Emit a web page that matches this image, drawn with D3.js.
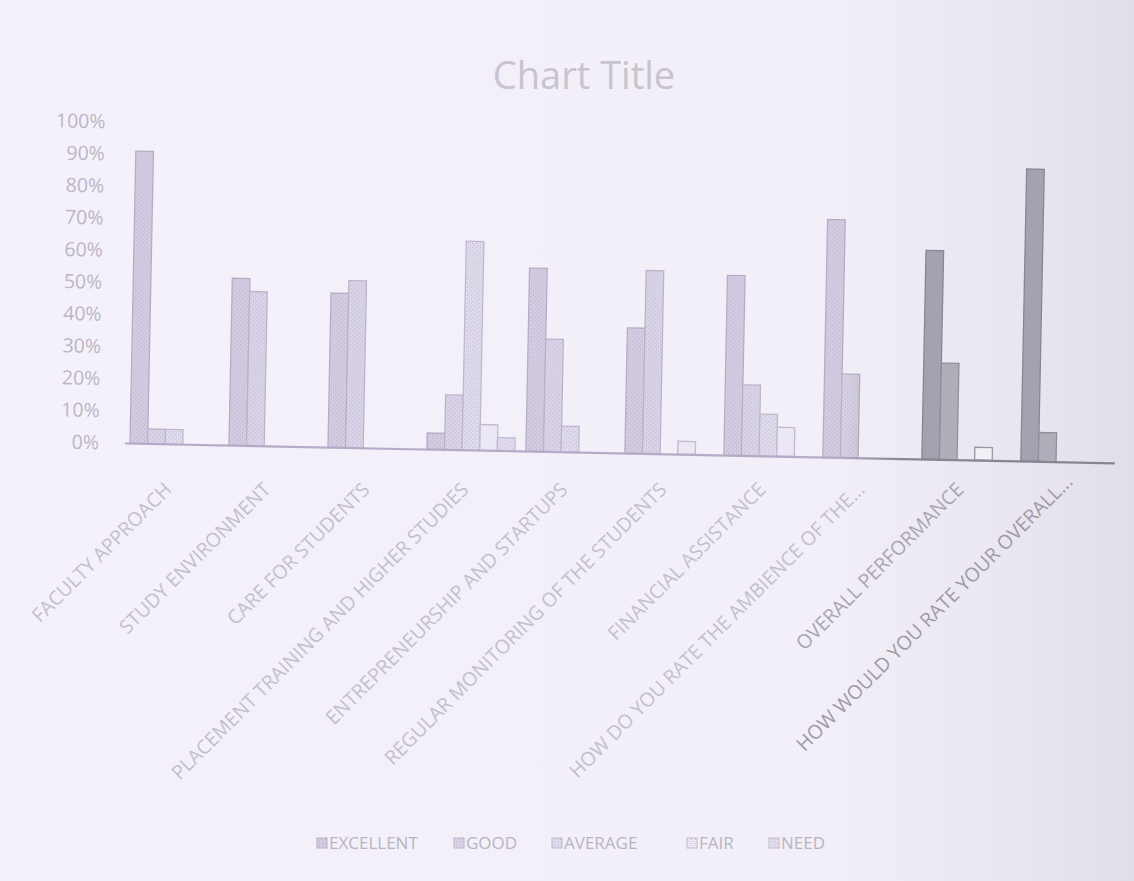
<!DOCTYPE html>
<html>
<head>
<meta charset="utf-8">
<script src="https://cdn.jsdelivr.net/npm/d3@7"></script>
<style>
  html, body { margin: 0; padding: 0; background: #f4f1f9; }
  svg { display: block; }
</style>
</head>
<body>
<svg id="chart" width="1134" height="881"></svg>
<script>
// Survey categories (x axis)
const categories = [
  "FACULTY APPROACH",
  "STUDY ENVIRONMENT",
  "CARE FOR STUDENTS",
  "PLACEMENT TRAINING AND HIGHER STUDIES",
  "ENTREPRENEURSHIP AND STARTUPS",
  "REGULAR MONITORING OF THE STUDENTS",
  "FINANCIAL ASSISTANCE",
  "HOW DO YOU RATE THE AMBIENCE OF THE...",
  "OVERALL PERFORMANCE",
  "HOW WOULD YOU RATE YOUR OVERALL..."
];

// Rating series
const seriesNames = ["EXCELLENT", "GOOD", "AVERAGE", "FAIR", "NEED"];

// Share of responses per rating (fractions)
const excellent = [0.91, 0.52, 0.48, 0.05, 0.57, 0.39, 0.56, 0.74, 0.65, 0.91];
const good      = [0.045, 0.48, 0.52, 0.17, 0.35, 0.57, 0.22, 0.26, 0.30, 0.09];
const average   = [0.045, 0, 0, 0.65, 0.08, 0, 0.13, 0, 0, 0];
const fair      = [0, 0, 0, 0.08, 0, 0.04, 0.09, 0, 0.04, 0];
const need      = [0, 0, 0, 0.04, 0, 0, 0, 0, 0, 0];

const yTicks = [0, 0.1, 0.2, 0.3, 0.4, 0.5, 0.6, 0.7, 0.8, 0.9, 1.0];

const seriesValues = [excellent, good, average, fair, need];
const bars = [];
categories.forEach((c, i) => seriesNames.forEach((s, k) => {
  if (seriesValues[k][i] > 0) bars.push({ category: c, series: s, k, value: seriesValues[k][i] });
}));

const svg = d3.select("#chart");
const W = 1134, H = 881;
const defs = svg.append("defs");

// Paper tone, greyer toward the right edge
const bg = defs.append("linearGradient").attr("id", "paper")
  .attr("x1", 0).attr("x2", 1).attr("y1", 0).attr("y2", 0);
bg.append("stop").attr("offset", 0).attr("stop-color", "#f4f1fa");
bg.append("stop").attr("offset", 0.72).attr("stop-color", "#f2eff8");
bg.append("stop").attr("offset", 0.9).attr("stop-color", "#eae6f0");
bg.append("stop").attr("offset", 1).attr("stop-color", "#e2dee8");
svg.append("rect").attr("width", W).attr("height", H).attr("fill", "url(#paper)");

// Per-series fills: pale lavender, turning grey toward the right
const palette = {
  EXCELLENT: { l: "#d3cce2", r: "#a7a3b0", sl: "#b4acc7", sr: "#888492" },
  GOOD:      { l: "#dad4e8", r: "#b3afbb", sl: "#bab2cb", sr: "#918d9a" },
  AVERAGE:   { l: "#dfdaec", r: "#c0bcc8", sl: "#beb7ce", sr: "#9a96a2" },
  FAIR:      { l: "#ebe7f4", r: "#f3f1f5", sl: "#c0b9cf", sr: "#9a96a2" },
  NEED:      { l: "#e2ddee", r: "#c4c0cc", sl: "#c0b9cf", sr: "#9a96a2" }
};
function hGrad(id, left, right) {
  const g = defs.append("linearGradient").attr("id", id)
    .attr("gradientUnits", "userSpaceOnUse")
    .attr("x1", 0).attr("x2", W).attr("y1", 0).attr("y2", 0);
  g.append("stop").attr("offset", 0).attr("stop-color", left);
  g.append("stop").attr("offset", 0.74).attr("stop-color", left);
  g.append("stop").attr("offset", 0.8).attr("stop-color", right);
  g.append("stop").attr("offset", 1).attr("stop-color", right);
}
seriesNames.forEach((s, k) => {
  hGrad("fill" + k, palette[s].l, palette[s].r);
  hGrad("stroke" + k, palette[s].sl, palette[s].sr);
});

// Fine print-style texture laid over the bars
const pat = defs.append("pattern").attr("id", "texture")
  .attr("patternUnits", "userSpaceOnUse").attr("width", 4).attr("height", 4);
pat.append("rect").attr("x", 0).attr("y", 0).attr("width", 1).attr("height", 1).attr("fill", "#7d7590").attr("opacity", 0.35);
pat.append("rect").attr("x", 2).attr("y", 2).attr("width", 1).attr("height", 1).attr("fill", "#7d7590").attr("opacity", 0.35);

// Title
svg.append("text")
  .attr("x", 584).attr("y", 89)
  .attr("text-anchor", "middle")
  .attr("font-family", "'Open Sans', sans-serif")
  .attr("font-size", 38)
  .attr("fill", "#c8c3ce")
  .text("Chart Title");

// Plot area, slightly tilted
const plot = svg.append("g").attr("transform", "rotate(1.15,124,443)");

const x0 = d3.scaleBand().domain(categories).range([124.5, 1114.5])
  .paddingInner(0.111).paddingOuter(0.0555);
const x1 = d3.scaleBand().domain(seriesNames).range([0, x0.bandwidth()]);
const y = d3.scaleLinear().domain([0, 1]).range([443, 122]);

// Y axis labels
const yAxis = plot.append("g").attr("transform", "translate(124,0)")
  .call(d3.axisLeft(y).tickValues(yTicks).tickFormat(d3.format(".0%")).tickSize(0).tickPadding(25));
yAxis.select(".domain").remove();
yAxis.selectAll("text")
  .attr("font-family", "'Open Sans', sans-serif")
  .attr("font-size", 19.5)
  .attr("fill", "#bbb6c3");

// Bars
plot.append("g").selectAll("rect").data(bars).join("rect")
  .attr("x", d => x0(d.category) + x1(d.series))
  .attr("y", d => y(d.value))
  .attr("width", x1.bandwidth())
  .attr("height", d => y(0) - y(d.value))
  .attr("fill", d => `url(#fill${d.k})`)
  .attr("stroke", d => `url(#stroke${d.k})`)
  .attr("stroke-width", 1.3);

plot.append("g").selectAll("rect").data(bars.filter(d => d.series !== "FAIR")).join("rect")
  .attr("x", d => x0(d.category) + x1(d.series) + 1)
  .attr("y", d => y(d.value) + 1)
  .attr("width", x1.bandwidth() - 2)
  .attr("height", d => Math.max(0, y(0) - y(d.value) - 2))
  .attr("fill", "url(#texture)");

// X axis line
const xAxis = plot.append("g").attr("transform", `translate(0,${y(0)})`)
  .call(d3.axisBottom(x0).tickSize(0).tickSizeOuter(0).tickFormat(""));
xAxis.select(".domain")
  .attr("stroke", "url(#stroke0)")
  .attr("stroke-width", 2.2);

// Slanted category labels
const labelColor = i => i >= 9 ? "#9f9aa7" : i === 8 ? "#aaa5b2" : "#c4bfcc";
const xLabels = svg.append("g").attr("transform", "translate(0,448)")
  .call(d3.axisBottom(x0).tickSize(0).tickSizeOuter(0));
xLabels.select(".domain").remove();
xLabels.selectAll("text")
  .attr("font-family", "'Open Sans', sans-serif")
  .attr("font-size", 19.5)
  .attr("fill", (d, i) => labelColor(i))
  .attr("text-anchor", "end")
  .attr("x", 0).attr("y", 0).attr("dy", "0.35em")
  .attr("transform", (d, i) => i === 9 ? "translate(4,30) rotate(-45)" : "translate(-6,38) rotate(-45)");

// Legend
const legendX = [317, 454, 552, 687, 769];
const legend = svg.append("g").selectAll("g").data(seriesNames).join("g")
  .attr("transform", (d, i) => `translate(${legendX[i]},843)`);
legend.append("rect")
  .attr("x", 0).attr("y", -5).attr("width", 10).attr("height", 10)
  .attr("fill", d => palette[d].l)
  .attr("stroke", d => palette[d].sl).attr("stroke-width", 1);
legend.append("rect")
  .attr("x", 1).attr("y", -4).attr("width", 8).attr("height", 8)
  .attr("fill", "url(#texture)");
legend.append("text")
  .attr("x", 12).attr("y", 0).attr("dy", "0.35em")
  .attr("font-family", "'Open Sans', sans-serif")
  .attr("font-size", 17)
  .attr("fill", "#b9b4c1")
  .text(d => d);
</script>
</body>
</html>
